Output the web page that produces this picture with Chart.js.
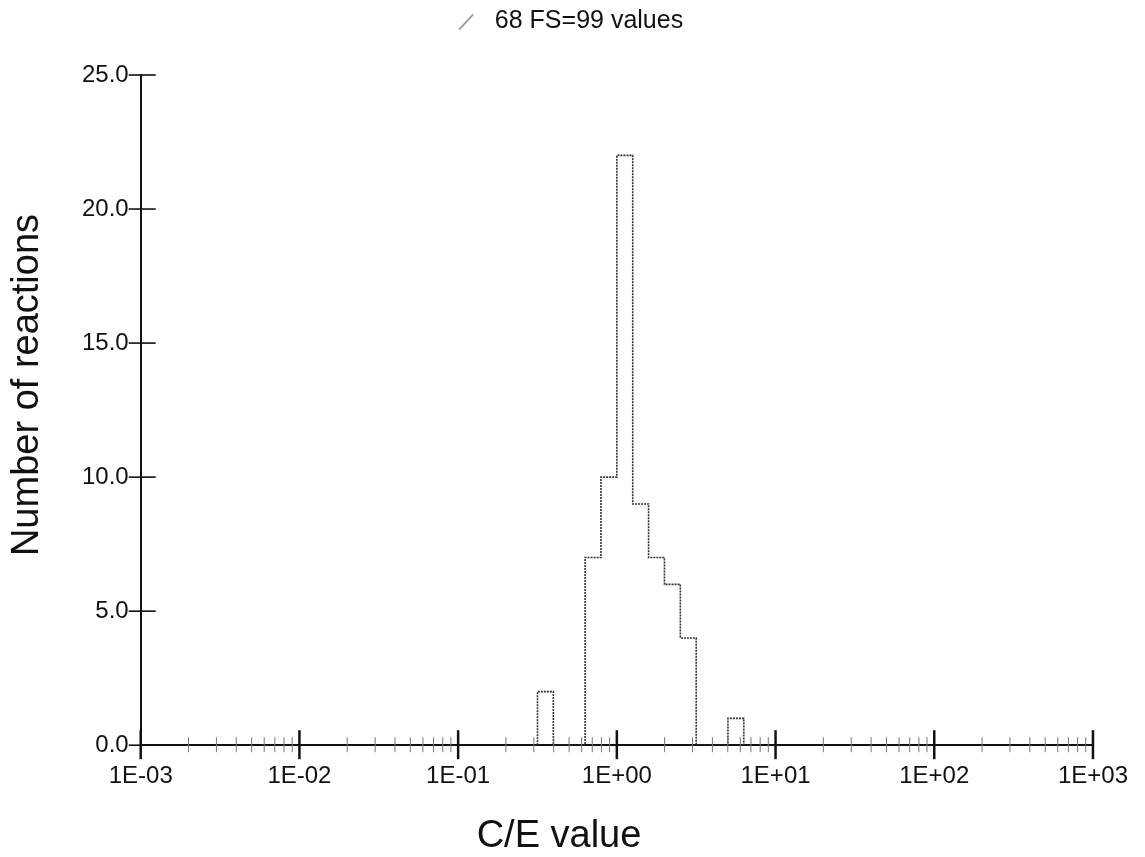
<!DOCTYPE html>
<html>
<head>
<meta charset="utf-8">
<script src="https://cdn.jsdelivr.net/npm/chart.js@4.4.1/dist/chart.umd.min.js"></script>
<style>
  html, body { margin: 0; padding: 0; background: #ffffff; }
  #wrap { width: 1145px; height: 857px; }
</style>
</head>
<body>
<div id="wrap"><canvas id="c" width="1145" height="857"></canvas></div>
<script>
// ---- data ----
const seriesLabel = '68 FS=99 values';
const binStartLog10 = [-0.5, -0.2, -0.1, 0.0, 0.1, 0.2, 0.3, 0.4, 0.7];
const binCounts     = [2, 7, 10, 22, 9, 7, 6, 4, 1];
const binWidthLog10 = 0.1;
const xTickValues = [1e-3, 1e-2, 1e-1, 1e0, 1e1, 1e2, 1e3];
const xTickLabels = ['1E-03', '1E-02', '1E-01', '1E+00', '1E+01', '1E+02', '1E+03'];
const yTickValues = [0, 5, 10, 15, 20, 25];
const yTickLabels = ['0.0', '5.0', '10.0', '15.0', '20.0', '25.0'];
const xAxisTitle = 'C/E value';
const yAxisTitle = 'Number of reactions';

// ---- build step outline points from the bins ----
const outline = [];
for (let i = 0; i < binStartLog10.length; i++) {
  const lo = binStartLog10[i];
  const hi = lo + binWidthLog10;
  if (i === 0) outline.push({ x: Math.pow(10, lo), y: 0 });
  outline.push({ x: Math.pow(10, lo), y: binCounts[i] });
  const next = binStartLog10[i + 1];
  const nextContig = next !== undefined && Math.abs(hi - next) < 1e-9;
  if (!nextContig) outline.push({ x: Math.pow(10, hi), y: 0 });
}

// legend marker: a short slanted stroke
const slash = document.createElement('canvas');
slash.width = 30; slash.height = 20;
(function () {
  const g = slash.getContext('2d');
  g.strokeStyle = '#777';
  g.lineWidth = 1.3;
  g.beginPath(); g.moveTo(1, 18); g.lineTo(15, 3); g.stroke();
})();

const FONT = "'Liberation Sans', Arial, Helvetica, sans-serif";

const axisDecor = {
  id: 'axisDecor',
  afterDraw(chart) {
    const ctx = chart.ctx;
    const xs = chart.scales.x, ys = chart.scales.y;
    const a = chart.chartArea;
    const y0 = a.bottom, x0 = a.left;
    ctx.save();
    ctx.strokeStyle = '#111';
    // major x ticks
    ctx.lineWidth = 2.5;
    xTickValues.forEach(v => {
      const px = xs.getPixelForValue(v);
      ctx.beginPath(); ctx.moveTo(px, y0 - 15); ctx.lineTo(px, y0 + 14); ctx.stroke();
    });
    // minor x ticks
    ctx.lineWidth = 1;
    ctx.strokeStyle = '#777';
    for (let d = 0; d < xTickValues.length - 1; d++) {
      for (let k = 2; k <= 9; k++) {
        const px = xs.getPixelForValue(k * xTickValues[d]);
        ctx.beginPath(); ctx.moveTo(px, y0 - 8); ctx.lineTo(px, y0 + 7); ctx.stroke();
      }
    }
    // y ticks crossing the axis
    ctx.strokeStyle = '#111';
    ctx.lineWidth = 1.6;
    yTickValues.forEach(v => {
      const py = ys.getPixelForValue(v);
      ctx.beginPath(); ctx.moveTo(x0 - 12, py); ctx.lineTo(x0 + 15, py); ctx.stroke();
    });
    // axis titles
    ctx.fillStyle = '#111';
    ctx.font = '38px ' + FONT;
    ctx.textAlign = 'center';
    ctx.textBaseline = 'alphabetic';
    ctx.fillText(xAxisTitle, 559, 847);
    ctx.translate(38, 385);
    ctx.rotate(-Math.PI / 2);
    ctx.fillText(yAxisTitle, 0, 0);
    ctx.restore();
  }
};

const legendSpacer = {
  id: 'legendSpacer',
  beforeInit(chart) {
    const lg = chart.legend;
    const origFit = lg.fit;
    lg.fit = function () { origFit.call(this); this.height += 33; };
    const origDraw = lg.draw;
    lg.draw = function () {
      const c = this.ctx;
      c.save();
      c.translate(-10, 2);
      origDraw.call(this);
      c.restore();
    };
  }
};

new Chart(document.getElementById('c'), {
  type: 'line',
  data: {
    datasets: [{
      label: seriesLabel,
      data: outline,
      stepped: 'before',
      borderColor: '#333',
      borderWidth: 1.6,
      borderDash: [2, 1],
      pointRadius: 0,
      pointStyle: slash,
      fill: false,
      tension: 0
    }]
  },
  options: {
    responsive: false,
    animation: false,
    devicePixelRatio: 1,
    layout: { padding: { left: 70, right: 48, top: 0, bottom: 49 } },
    plugins: {
      legend: {
        display: true,
        position: 'top',
        labels: {
          usePointStyle: true,
          pointStyleWidth: 18.5,
          padding: 7,
          color: '#111',
          font: { family: FONT, size: 25 }
        }
      },
      tooltip: { enabled: false },
      title: { display: false }
    },
    scales: {
      x: {
        type: 'logarithmic',
        min: 1e-3,
        max: 1e3,
        afterBuildTicks(scale) { scale.ticks = xTickValues.map(v => ({ value: v })); },
        ticks: {
          callback: (v, i) => xTickLabels[i],
          autoSkip: false,
          maxRotation: 0,
          padding: 17,
          color: '#111',
          font: { family: FONT, size: 24 }
        },
        grid: { display: false, drawTicks: false },
        border: { display: true, color: '#111', width: 2 }
      },
      y: {
        type: 'linear',
        min: 0,
        max: 25,
        afterBuildTicks(scale) { scale.ticks = yTickValues.map(v => ({ value: v })); },
        ticks: {
          callback: (v, i) => yTickLabels[i],
          padding: 12,
          color: '#111',
          font: { family: FONT, size: 24 }
        },
        grid: { display: false, drawTicks: false },
        border: { display: true, color: '#111', width: 2 }
      }
    }
  },
  plugins: [legendSpacer, axisDecor]
});
</script>
</body>
</html>
